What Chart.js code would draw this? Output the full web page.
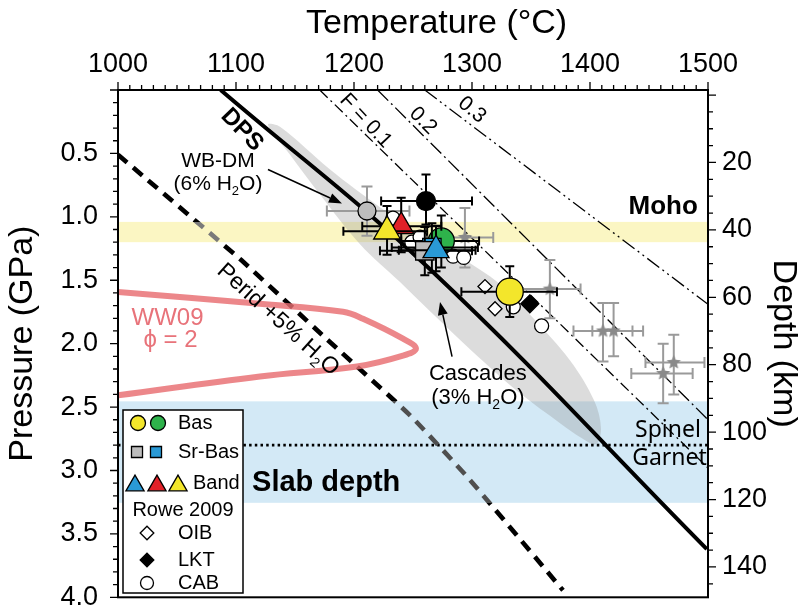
<!DOCTYPE html>
<html>
<head>
<meta charset="utf-8">
<title>Pressure–temperature diagram</title>
<script src="https://cdn.jsdelivr.net/npm/chart.js@4.4.1/dist/chart.umd.min.js"></script>
<style>
html,body{margin:0;padding:0;background:#fff;}
canvas{display:block;}
</style>
</head>
<body>
<canvas id="chart" width="804" height="614"></canvas>
<script>
// ---------------- data ----------------
const tempTicks = [1000, 1100, 1200, 1300, 1400, 1500];
const pressureTicks = [0.5, 1.0, 1.5, 2.0, 2.5, 3.0, 3.5, 4.0];
const depthTicks = [20, 40, 60, 80, 100, 120, 140];

// reference curves (T in °C, P in GPa)
const dpsT = [1087, 1264, 1499];
const dpsP = [0, 1.41, 3.62];
const f01T = [1171, 1500];
const f01P = [0, 2.98];
const f02T = [1220, 1500];
const f02P = [0, 2.6];
const f03T = [1260, 1500];
const f03P = [0, 1.69];
const peridT = [1000, 1103.4, 1173.7, 1247.5, 1298.3, 1377.1];
const peridP = [0.51, 1.333, 1.937, 2.565, 3.075, 3.945];
const ww09T = [1000, 1120.3, 1190.7, 1207.6, 1241.5, 1252.5, 1241.5, 1202.5, 1120.3, 1000];
const ww09P = [1.592, 1.686, 1.749, 1.804, 1.961, 2.039, 2.094, 2.18, 2.259, 2.408];
const spinelGarnetT = [1000, 1500];
const spinelGarnetP = [2.8, 2.8];
const mohoBandP = [1.04, 1.2];
const slabBandP = [2.455, 3.255];
const cascadesT = [1239.0, 1205.1, 1171.2, 1145.8, 1127.1, 1137.3, 1179.7, 1222.0, 1255.9, 1289.8, 1323.7, 1350.8, 1383.1, 1403.4, 1409.3, 1405.1, 1393.2, 1374.6, 1340.7, 1306.8, 1272.9, 1239.0];
const cascadesP = [1.514, 1.216, 0.824, 0.510, 0.275, 0.290, 0.627, 0.925, 1.145, 1.318, 1.529, 1.788, 2.133, 2.447, 2.667, 2.792, 2.745, 2.627, 2.392, 2.118, 1.820, 1.514];

// samples
const cabT = [1233, 1249, 1256, 1284, 1293, 1335, 1359];
const cabP = [1.01, 1.20, 1.16, 1.31, 1.32, 1.71, 1.86];
const oibT = [1311, 1319.5];
const oibP = [1.55, 1.725];
const lktT = [1349];
const lktP = [1.686];
const starT = [1294, 1366, 1411, 1420, 1462, 1471];
const starP = [1.163, 1.57, 1.90, 1.90, 2.235, 2.149];
const starTerr = [[1273, 1318], [1340, 1392], [1386, 1436], [1402, 1445], [1435, 1487], [1447, 1497]];
const starPerr = [[0.93, 1.40], [1.34, 1.80], [1.68, 2.14], [1.68, 2.10], [2.0, 2.47], [1.93, 2.40]];
const wbdmT = [1211];
const wbdmP = [0.954];
const wbdmTerr = [[1177, 1247]];
const wbdmPerr = [[0.76, 1.15]];
const blackT = [1261];
const blackP = [0.876];
const blackTerr = [[1223, 1300]];
const blackPerr = [[0.667, 1.06]];
const basGreenT = [1274];
const basGreenP = [1.19];
const basGreenTerr = [[1240, 1306]];
const basGreenPerr = [[0.99, 1.40]];
const basYellowT = [1332];
const basYellowP = [1.59];
const basYellowTerr = [[1291, 1372]];
const basYellowPerr = [[1.39, 1.79]];
const srGrayT = [1260];
const srGrayP = [1.268];
const srGrayTerr = [[1222, 1300]];
const srGrayPerr = [[1.08, 1.46]];
const srBlueT = [1266];
const srBlueP = [1.242];
const srBlueTerr = [[1232, 1305]];
const srBluePerr = [[1.05, 1.44]];
const bandBlueT = [1269.5];
const bandBlueP = [1.263];
const bandBlueTerr = [[1238, 1303]];
const bandBluePerr = [[1.07, 1.43]];
const bandRedT = [1240];
const bandRedP = [1.075];
const bandRedTerr = [[1207, 1274]];
const bandRedPerr = [[0.85, 1.28]];
const bandYellowT = [1228];
const bandYellowP = [1.114];
const bandYellowTerr = [[1191, 1262]];
const bandYellowPerr = [[0.915, 1.30]];

// ---------------- styling ----------------
const SANS = '"Liberation Sans", Arial, Helvetica, sans-serif';
Chart.defaults.font.family = SANS;
Chart.defaults.color = '#000';

const C = {
  yellow: '#f3e62b', green: '#2eb24b', red: '#e12128', blue: '#2a9ad6',
  gray: '#bdbdbd', star: '#8a8a8a', errGray: '#9a9a9a', pink: 'rgba(232,108,112,0.82)', pinkText: '#e8737a'
};

function zip(T, P) { return T.map((t, i) => ({x: t, y: P[i]})); }

function starImage(r, color) {
  const s = Math.ceil(2 * r + 2);
  const c = document.createElement('canvas');
  c.width = s; c.height = s;
  const g = c.getContext('2d');
  g.beginPath();
  for (let i = 0; i < 10; i++) {
    const a = -Math.PI / 2 + i * Math.PI / 5;
    const rr = i % 2 ? r * 0.45 : r;
    g.lineTo(s / 2 + rr * Math.cos(a), s / 2 + rr * Math.sin(a));
  }
  g.closePath();
  g.fillStyle = color;
  g.fill();
  return c;
}
const starImg = starImage(7.5, C.star);

function lineDS(label, T, P, opts) {
  return Object.assign({
    label, data: zip(T, P), showLine: true, pointRadius: 0, fill: false,
    borderColor: '#000', borderWidth: 1.3, tension: 0
  }, opts);
}
function markDS(label, T, P, style, radius, fill, order, errT, errP, errColor) {
  return {
    label, data: zip(T, P), showLine: false, pointStyle: style, pointRadius: radius,
    pointBackgroundColor: fill, pointBorderColor: '#000', pointBorderWidth: 1.3,
    order, errT, errP, errColor: errColor || '#000'
  };
}

function peridColor(ctx) {
  const ch = ctx.chart, a = ch.chartArea;
  if (!a) return '#000';
  const ys = ch.scales.y;
  const f = v => Math.min(1, Math.max(0, (ys.getPixelForValue(v) - a.top) / (a.bottom - a.top)));
  const g = ch.ctx.createLinearGradient(0, a.top, 0, a.bottom);
  g.addColorStop(0, '#000');
  g.addColorStop(f(mohoBandP[0]), '#000');
  g.addColorStop(f(mohoBandP[0]), '#7a7a7a');
  g.addColorStop(f(mohoBandP[1]), '#7a7a7a');
  g.addColorStop(f(mohoBandP[1]), '#000');
  g.addColorStop(f(slabBandP[0]), '#000');
  g.addColorStop(f(slabBandP[0]), '#4f4f4f');
  g.addColorStop(f(slabBandP[1]), '#4f4f4f');
  g.addColorStop(f(slabBandP[1]), '#000');
  g.addColorStop(1, '#000');
  return g;
}

const datasets = [
  lineDS('Cascades (3% H2O)', cascadesT, cascadesP, {fill: 'shape', backgroundColor: 'rgba(150,150,150,0.33)', borderWidth: 0, borderColor: 'rgba(0,0,0,0)', tension: 0.35, order: 100}),
  lineDS('F = 0.1', f01T, f01P, {borderDash: [11, 4, 2, 4], order: 90}),
  lineDS('F = 0.2', f02T, f02P, {borderDash: [15, 4, 2, 4], order: 90}),
  lineDS('F = 0.3', f03T, f03P, {borderDash: [15, 4, 2, 4, 2, 4], order: 90}),
  lineDS('Spinel / Garnet', spinelGarnetT, spinelGarnetP, {borderDash: [2.5, 3.2], borderWidth: 2.6, order: 89}),
  lineDS('DPS', dpsT, dpsP, {borderWidth: 4, tension: 0.4, order: 88}),
  lineDS('Perid +5% H2O', peridT, peridP, {borderWidth: 4.6, borderDash: [12, 8], borderColor: peridColor, tension: 0.15, order: 87}),
  lineDS('WW09 phi = 2', ww09T, ww09P, {borderWidth: 6, borderColor: C.pink, tension: 0.4, borderCapStyle: 'round', order: 86}),
  markDS('WB-DM', wbdmT, wbdmP, 'circle', 9, C.gray, 60, wbdmTerr, wbdmPerr, C.errGray),
  markDS('Rowe 2009 stars', starT, starP, starImg, 7, C.star, 59, starTerr, starPerr, C.errGray),
  markDS('CAB', cabT, cabP, 'circle', 7, '#fff', 58),
  markDS('Black', blackT, blackP, 'circle', 9.5, '#000', 57, blackTerr, blackPerr),
  markDS('OIB', oibT, oibP, 'rectRot', 7, '#fff', 56),
  markDS('LKT', lktT, lktP, 'rectRot', 9, '#000', 55),
  markDS('Bas green', basGreenT, basGreenP, 'circle', 13, C.green, 50, basGreenTerr, basGreenPerr),
  markDS('Sr-Bas blue', srBlueT, srBlueP, 'rect', 13, C.blue, 49, srBlueTerr, srBluePerr),
  markDS('Sr-Bas gray', srGrayT, srGrayP, 'rect', 13, C.gray, 48, srGrayTerr, srGrayPerr),
  markDS('Band blue', bandBlueT, bandBlueP, 'triangle', 15, C.blue, 47, bandBlueTerr, bandBluePerr),
  markDS('Band red', bandRedT, bandRedP, 'triangle', 14.5, C.red, 46, bandRedTerr, bandRedPerr),
  markDS('Band yellow', bandYellowT, bandYellowP, 'triangle', 15.4, C.yellow, 45, bandYellowTerr, bandYellowPerr),
  markDS('Bas yellow', basYellowT, basYellowP, 'circle', 13.5, C.yellow, 44, basYellowTerr, basYellowPerr)
];

// ---------------- annotations ----------------
const notes = [
  {text: 'DPS', T: 1105, P: 0.314, size: 24, weight: 'bold', rot: 46},
  {text: 'F = 0.1', T: 1210, P: 0.243, size: 21, rot: 47},
  {text: '0.2', T: 1258.5, P: 0.243, size: 21, rot: 45},
  {text: '0.3', T: 1300, P: 0.157, size: 21, rot: 40},
  {text: 'WB-DM', T: 1084.7, P: 0.565, size: 21},
  {text: '(6% H_2O)', T: 1084.7, P: 0.745, size: 21},
  {text: 'Moho', T: 1462, P: 0.918, size: 26, weight: 'bold'},
  {text: 'Cascades', T: 1305, P: 2.235, size: 22},
  {text: '(3% H_2O)', T: 1305, P: 2.431, size: 22},
  {text: 'Perid +5% H_2O', T: 1135.6, P: 1.812, size: 23, rot: 42},
  {text: 'WW09', T: 1042, P: 1.80, size: 24, color: C.pinkText},
  {text: '\u03D5 = 2', T: 1044.5, P: 1.975, size: 24, color: C.pinkText},
  {text: 'Slab depth', T: 1113.6, P: 3.098, size: 29, weight: 'bold', align: 'left'},
  {text: 'Spinel', T: 1494, P: 2.682, size: 23, align: 'right', family: '"Noto Sans", "Open Sans", sans-serif'},
  {text: 'Garnet', T: 1499, P: 2.902, size: 23, align: 'right', family: '"Noto Sans", "Open Sans", sans-serif'}
];
const arrows = [
  {from: [1127.1, 0.627], to: [1189.8, 0.894]},
  {from: [1283.1, 2.102], to: [1272.9, 1.671]}
];

function drawRich(ctx, str, x, y, size, weight, family, align) {
  const parts = str.split(/_(.)/);
  const fN = `${weight} ${size}px ${family}`;
  const fS = `${weight} ${Math.round(size * 0.62)}px ${family}`;
  let w = 0;
  parts.forEach((p, i) => { ctx.font = i % 2 ? fS : fN; w += ctx.measureText(p).width; });
  let x0 = align === 'left' ? x : align === 'right' ? x - w : x - w / 2;
  ctx.textAlign = 'left';
  ctx.textBaseline = 'middle';
  parts.forEach((p, i) => {
    ctx.font = i % 2 ? fS : fN;
    ctx.fillText(p, x0, y + (i % 2 ? size * 0.33 : 0));
    x0 += ctx.measureText(p).width;
  });
}

// ---------------- plugins ----------------
const bandsPlugin = {
  id: 'bands',
  beforeDatasetsDraw(chart) {
    const a = chart.chartArea, ys = chart.scales.y, ctx = chart.ctx;
    const band = (p, c) => {
      const t = ys.getPixelForValue(p[0]), b = ys.getPixelForValue(p[1]);
      ctx.fillStyle = c;
      ctx.fillRect(a.left, t, a.right - a.left, b - t);
    };
    ctx.save();
    band(mohoBandP, '#fbf6c3');
    band(slabBandP, '#d3e9f6');
    ctx.restore();
  }
};

const errorBarPlugin = {
  id: 'errorBars',
  beforeDatasetDraw(chart, args) {
    const ds = chart.data.datasets[args.index];
    if (!ds.errT && !ds.errP) return;
    const xs = chart.scales.x, ys = chart.scales.y, a = chart.chartArea, ctx = chart.ctx;
    ctx.save();
    ctx.beginPath();
    ctx.rect(a.left, a.top, a.right - a.left, a.bottom - a.top);
    ctx.clip();
    ctx.strokeStyle = ds.errColor;
    ctx.lineWidth = 2;
    const cap = ds.errColor === '#000' ? 4.5 : 5.5;
    ds.data.forEach((pt, i) => {
      const px = xs.getPixelForValue(pt.x), py = ys.getPixelForValue(pt.y);
      ctx.beginPath();
      if (ds.errT) {
        const l = xs.getPixelForValue(ds.errT[i][0]), r = xs.getPixelForValue(ds.errT[i][1]);
        ctx.moveTo(l, py); ctx.lineTo(r, py);
        ctx.moveTo(l, py - cap); ctx.lineTo(l, py + cap);
        ctx.moveTo(r, py - cap); ctx.lineTo(r, py + cap);
      }
      if (ds.errP) {
        const t = ys.getPixelForValue(ds.errP[i][0]), b = ys.getPixelForValue(ds.errP[i][1]);
        ctx.moveTo(px, t); ctx.lineTo(px, b);
        ctx.moveTo(px - cap, t); ctx.lineTo(px + cap, t);
        ctx.moveTo(px - cap, b); ctx.lineTo(px + cap, b);
      }
      ctx.stroke();
    });
    ctx.restore();
  }
};

const notesPlugin = {
  id: 'notes',
  afterDatasetsDraw(chart) {
    const xs = chart.scales.x, ys = chart.scales.y, ctx = chart.ctx;
    ctx.save();
    notes.forEach(n => {
      const px = xs.getPixelForValue(n.T), py = ys.getPixelForValue(n.P);
      ctx.save();
      ctx.translate(px, py);
      if (n.rot) ctx.rotate(n.rot * Math.PI / 180);
      ctx.fillStyle = n.color || '#000';
      drawRich(ctx, n.text, 0, 0, n.size, n.weight || 'normal', n.family || SANS, n.align || 'center');
      ctx.restore();
    });
    arrows.forEach(ar => {
      const x0 = xs.getPixelForValue(ar.from[0]), y0 = ys.getPixelForValue(ar.from[1]);
      const x1 = xs.getPixelForValue(ar.to[0]), y1 = ys.getPixelForValue(ar.to[1]);
      const ang = Math.atan2(y1 - y0, x1 - x0), L = 13, W = 5;
      const bx = x1 - L * Math.cos(ang), by = y1 - L * Math.sin(ang);
      ctx.strokeStyle = '#000'; ctx.fillStyle = '#000'; ctx.lineWidth = 1.5;
      ctx.beginPath(); ctx.moveTo(x0, y0); ctx.lineTo(bx, by); ctx.stroke();
      ctx.beginPath();
      ctx.moveTo(x1, y1);
      ctx.lineTo(bx + W * Math.sin(ang), by - W * Math.cos(ang));
      ctx.lineTo(bx - W * Math.sin(ang), by + W * Math.cos(ang));
      ctx.closePath(); ctx.fill();
    });
    ctx.restore();
  }
};

const legendPlugin = {
  id: 'customLegend',
  afterDraw(chart) {
    const a = chart.chartArea, ctx = chart.ctx, dp = Chart.helpers.drawPoint;
    const bx = a.left + 5, by = a.top + 320, bw = 120, bh = 183;
    ctx.save();
    ctx.fillStyle = '#fff';
    ctx.fillRect(bx, by, bw, bh);
    ctx.strokeStyle = '#000'; ctx.lineWidth = 1.5;
    ctx.strokeRect(bx, by, bw, bh);
    const mark = (style, r, fill, x, y) => {
      ctx.fillStyle = fill; ctx.strokeStyle = '#000'; ctx.lineWidth = 1.3;
      dp(ctx, {pointStyle: style, radius: r, rotation: 0, borderWidth: 1.3}, x, y);
    };
    const label = (t, x, y, align) => {
      ctx.fillStyle = '#000';
      ctx.font = `20px ${SANS}`;
      ctx.textAlign = align || 'left';
      ctx.textBaseline = 'middle';
      ctx.fillText(t, x, y);
    };
    let y = by + 13;
    mark('circle', 7.5, C.yellow, bx + 15, y); mark('circle', 7.5, C.green, bx + 35, y); label('Bas', bx + 55, y);
    y = by + 42;
    mark('rect', 7.8, C.gray, bx + 14, y); mark('rect', 7.8, C.blue, bx + 33, y); label('Sr-Bas', bx + 55, y);
    y = by + 73;
    mark('triangle', 10.5, C.blue, bx + 12, y + 2.6); mark('triangle', 10.5, C.red, bx + 34, y + 2.6); mark('triangle', 10.5, C.yellow, bx + 55, y + 2.6);
    label('Band', bx + 70, y);
    label('Rowe 2009', bx + 60, by + 100, 'center');
    y = by + 123; mark('rectRot', 6.8, '#fff', bx + 24, y); label('OIB', bx + 55, y);
    y = by + 150; mark('rectRot', 6.8, '#000', bx + 24, y); label('LKT', bx + 55, y);
    y = by + 173; mark('circle', 6.5, '#fff', bx + 24, y); label('CAB', bx + 55, y);
    ctx.restore();
  }
};

const framePlugin = {
  id: 'frame',
  afterDraw(chart) {
    const a = chart.chartArea, ctx = chart.ctx, {x, y, y2} = chart.scales;
    ctx.save();
    ctx.strokeStyle = '#000';
    ctx.lineWidth = 1.3;
    ctx.beginPath();
    for (let t = 1000; t <= 1500; t += 10) {
      const px = x.getPixelForValue(t), L = t % 100 === 0 ? 8 : 5;
      ctx.moveTo(px, a.top); ctx.lineTo(px, a.top - L);
    }
    for (let k = 0; k <= 40; k++) {
      const py = y.getPixelForValue(k / 10), L = k % 5 === 0 ? 8 : 5;
      ctx.moveTo(a.left, py); ctx.lineTo(a.left - L, py);
    }
    for (let d = 0; d <= 145; d += 5) {
      const py = y2.getPixelForValue(d);
      if (py < a.top || py > a.bottom) continue;
      const L = d % 20 === 0 ? 8 : 5;
      ctx.moveTo(a.right, py); ctx.lineTo(a.right + L, py);
    }
    ctx.stroke();
    ctx.lineWidth = 2;
    ctx.strokeRect(a.left, a.top, a.right - a.left, a.bottom - a.top);
    ctx.restore();
  }
};

// ---------------- chart ----------------
const tickFont = {size: 27};
const titleFont = {size: 34};
const noPad = s => { s.paddingTop = 0; s.paddingBottom = 0; };
new Chart(document.getElementById('chart'), {
  type: 'scatter',
  data: {datasets},
  options: {
    responsive: false,
    animation: false,
    events: [],
    layout: {padding: {left: 0, right: 0, top: 0, bottom: 14}},
    plugins: {legend: {display: false}, tooltip: {enabled: false}},
    scales: {
      x: {
        type: 'linear', position: 'top', min: 1000, max: 1500,
        afterBuildTicks: s => { s.ticks = tempTicks.map(v => ({value: v})); },
        afterFit: s => { s.height = 90; },
        grid: {display: false, drawTicks: false}, border: {display: false},
        ticks: {padding: 9, font: tickFont, color: '#000', maxRotation: 0, autoSkip: false, callback: v => String(v)},
        title: {display: true, text: '     Temperature (\u00B0C)', font: titleFont, color: '#000', padding: {top: 3, bottom: 0}}
      },
      y: {
        type: 'linear', position: 'left', reverse: true, min: 0, max: 4,
        afterBuildTicks: s => { s.ticks = pressureTicks.map(v => ({value: v})); },
        afterFit: s => { s.width = 118; noPad(s); },
        grid: {display: false, drawTicks: false}, border: {display: false},
        ticks: {padding: 20, font: tickFont, color: '#000', autoSkip: false, callback: v => Number(v).toFixed(1)},
        title: {display: true, text: 'Pressure (GPa)', font: titleFont, color: '#000', padding: {top: 2, bottom: 0}}
      },
      y2: {
        type: 'linear', position: 'right', reverse: true, min: -1.5, max: 149,
        afterBuildTicks: s => { s.ticks = depthTicks.map(v => ({value: v})); },
        afterFit: s => { s.width = 96; noPad(s); },
        grid: {display: false, drawTicks: false}, border: {display: false},
        ticks: {padding: 14, font: tickFont, color: '#000', autoSkip: false, callback: v => String(v)},
        title: {display: true, text: 'Depth (km)', font: titleFont, color: '#000', padding: {top: 0, bottom: 0}}
      }
    }
  },
  plugins: [bandsPlugin, errorBarPlugin, notesPlugin, legendPlugin, framePlugin]
});
</script>
</body>
</html>
